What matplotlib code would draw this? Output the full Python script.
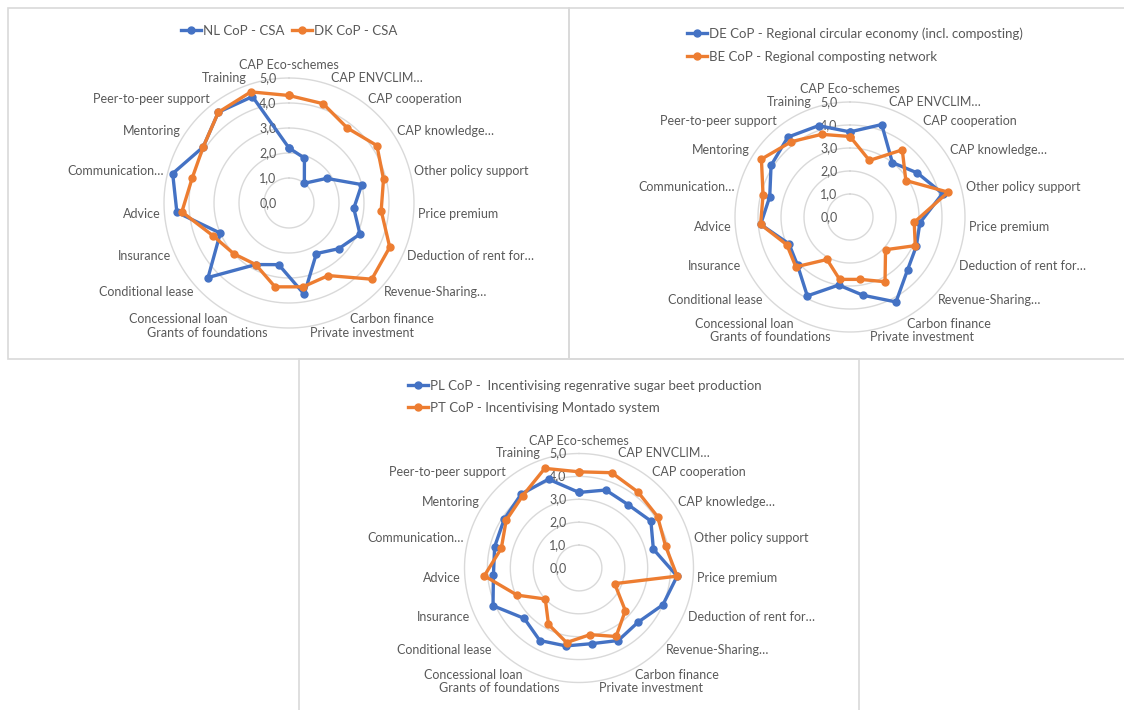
import numpy as np
import matplotlib
matplotlib.use("Agg")
import matplotlib.pyplot as plt
from matplotlib.patches import Rectangle

plt.rcParams['font.family'] = ['Lato', 'DejaVu Sans']

categories = ["CAP Eco-schemes", "CAP ENVCLIM…", "CAP cooperation", "CAP knowledge…",
              "Other policy support", "Price premium", "Deduction of rent for…",
              "Revenue-Sharing…", "Carbon finance", "Private investment",
              "Grants of foundations", "Concessional loan", "Conditional lease",
              "Insurance", "Advice", "Communication…", "Mentoring",
              "Peer-to-peer support", "Training"]
ticks = [0, 1, 2, 3, 4, 5]

# mean scores per instrument, one list per CoP
nl_csa = [2.2, 1.9, 1.0, 1.8, 3.0, 2.6, 3.1, 2.7, 2.3, 3.7, 2.5, 2.8, 4.4, 3.0, 4.5, 4.8, 4.1, 4.6, 4.5]
dk_csa = [4.3, 4.2, 3.8, 4.2, 3.9, 3.7, 4.4, 4.5, 3.3, 3.4, 3.4, 2.8, 3.0, 3.3, 4.3, 4.0, 4.1, 4.6, 4.7]
de_circ = [3.7, 4.25, 3.0, 3.5, 4.15, 3.05, 3.15, 3.4, 4.2, 3.45, 3.0, 3.9, 3.1, 2.9, 3.9, 3.6, 4.1, 4.4, 4.2]
be_comp = [3.5, 2.6, 3.7, 2.9, 4.4, 2.8, 3.1, 2.1, 3.2, 2.75, 2.75, 2.1, 3.2, 3.0, 3.9, 3.9, 4.6, 4.15, 3.8]
pl_beet = [3.3, 3.6, 3.5, 3.75, 3.35, 4.3, 4.0, 3.5, 3.6, 3.35, 3.45, 3.6, 3.25, 4.1, 3.75, 3.8, 3.9, 4.1, 4.1]
pt_mont = [4.2, 4.4, 4.2, 4.1, 3.9, 4.3, 1.7, 2.75, 3.4, 2.95, 3.3, 2.8, 2.0, 2.95, 4.15, 3.5, 3.8, 4.0, 4.6]

names_top_left = ["NL CoP - CSA", "DK CoP - CSA"]
names_top_right = ["DE CoP - Regional circular economy (incl. composting)",
                   "BE CoP - Regional composting network"]
names_bottom = ["PL CoP -  Incentivising regenrative sugar beet production",
                "PT CoP - Incentivising Montado system"]

W, H = 1124, 710
BLUE, ORANGE = '#4472C4', '#ED7D31'
GREY = '#595959'
GRID = '#d9d9d9'

fig = plt.figure(figsize=(W / 100, H / 100), dpi=100)


def frame(x0, y0, x1, y1):
    fig.add_artist(Rectangle((x0 / W, 1 - y1 / H), (x1 - x0) / W, (y1 - y0) / H,
                             transform=fig.transFigure, fill=False, ec=GRID, lw=1.2))


frame(8, 8, 569, 359)
frame(569, 8, 1135, 359)
frame(299, 359, 859, 720)


def radar(cx, cy, R, series, names, legend_kw):
    ax = fig.add_axes([(cx - R) / W, 1 - (cy + R) / H, 2 * R / W, 2 * R / H],
                      projection='polar')
    ax.set_theta_offset(np.pi / 2)
    ax.set_theta_direction(-1)
    ax.set_ylim(0, 5)
    ax.set_xticks([])
    ax.set_yticks([])
    ax.grid(False)
    ax.spines['polar'].set_visible(False)
    ax.set_facecolor('none')

    n = len(categories)
    theta = np.linspace(0, 2 * np.pi, n, endpoint=False)
    ring = np.linspace(0, 2 * np.pi, 300)
    for t in ticks[1:]:
        ax.plot(ring, np.full_like(ring, t), color=GRID, lw=1.0, zorder=1, clip_on=False)
    for t in ticks:
        ax.annotate(f"{t:.1f}".replace('.', ','), xy=(0, t), xytext=(-9, 0),
                    textcoords='offset points', ha='right', va='center',
                    fontsize=9, color=GREY, annotation_clip=False)

    handles = []
    for vals, name, color in zip(series, names, [BLUE, ORANGE]):
        v = np.r_[vals, vals[0]]
        th = np.r_[theta, theta[0]]
        ln, = ax.plot(th, v, color=color, lw=2.4, marker='o', ms=5,
                      label=name, zorder=3, clip_on=False)
        handles.append(ln)

    for th, lab in zip(theta, categories):
        a = np.pi / 2 - th
        c, s = np.cos(a), np.sin(a)
        if abs(c) < 0.15:
            ax.annotate(lab, xy=(th, 5), xytext=(0, 5 * np.sign(s)), textcoords='offset points',
                        ha='center', va='bottom' if s > 0 else 'top',
                        fontsize=9, color=GREY, annotation_clip=False)
            continue
        ax.annotate(lab, xy=(th, 5), xytext=(3 * c, 5 * s), textcoords='offset points',
                    ha='left' if c > 0 else 'right', va='center',
                    fontsize=9, color=GREY, annotation_clip=False)

    ax.legend(handles=handles, frameon=False, fontsize=9.5, labelcolor=GREY,
              handlelength=1.5, handletextpad=0.15, bbox_transform=fig.transFigure,
              **legend_kw)
    return ax


radar(289, 203, 125, [nl_csa, dk_csa], names_top_left,
      dict(loc='center', bbox_to_anchor=(289 / W, 1 - 31 / H), ncol=2, columnspacing=0.6))
radar(850, 217, 115, [de_circ, be_comp], names_top_right,
      dict(loc='center left', bbox_to_anchor=(675 / W, 1 - 45 / H), labelspacing=0.85))
radar(579, 568, 114.5, [pl_beet, pt_mont], names_bottom,
      dict(loc='center left', bbox_to_anchor=(396 / W, 1 - 397 / H), labelspacing=0.75))

fig.savefig("out.png", dpi=100, facecolor='white')
